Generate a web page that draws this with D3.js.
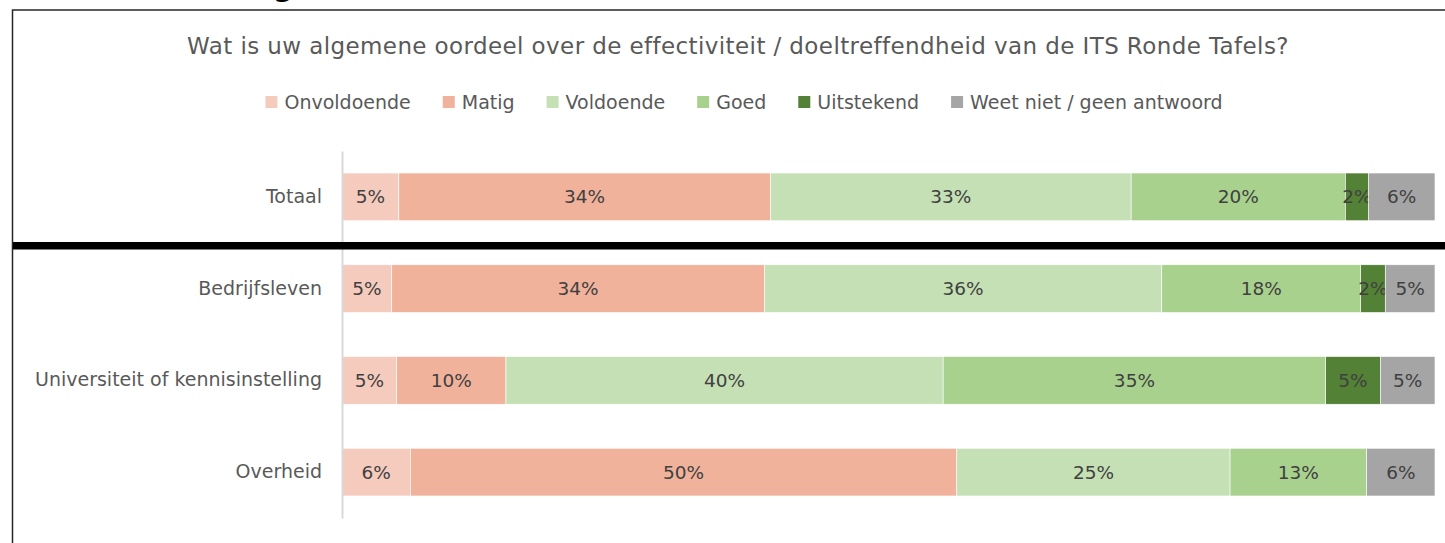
<!DOCTYPE html>
<html>
<head>
<meta charset="utf-8">
<script src="https://cdn.jsdelivr.net/npm/d3@7"></script>
<style>
body { margin: 0; background: #fff; }
text { font-family: "DejaVu Sans", sans-serif; }
</style>
</head>
<body>
<div id="chart-area"></div>
<script>
// Data (percent per group)
const categories = ["Totaal", "Bedrijfsleven", "Universiteit of kennisinstelling", "Overheid"]
const answers = ["Onvoldoende", "Matig", "Voldoende", "Goed", "Uitstekend", "Weet niet / geen antwoord"]
const onvoldoende = [5.2, 4.55, 5, 6.25]
const matig = [34.0, 34.1, 10, 50]
const voldoende = [33.0, 36.35, 40, 25]
const goed = [19.6, 18.2, 35, 12.5]
const uitstekend = [2.1, 2.25, 5, 0]
const weetNiet = [6.1, 4.55, 5, 6.25]
const colours = ["#f5cbbd", "#f1b29b", "#c5e0b4", "#a9d18e", "#538135", "#a5a5a5"]

const W = 1445, H = 543
const MARGIN = { LEFT: 342, RIGHT: 10, TOP: 151, BOTTOM: 25 }

const svg = d3.select("#chart-area").append("svg")
    .attr("width", W)
    .attr("height", H)

// Frame around the chart (cut off at right/bottom)
svg.append("rect")
    .attr("x", 12.5).attr("y", 10)
    .attr("width", W + 20).attr("height", H + 20)
    .attr("fill", "none")
    .attr("stroke", "#262626")
    .attr("stroke-width", 1.5)

// bit of text from above the chart
svg.append("text")
    .attr("x", 272).attr("y", -5)
    .attr("font-size", "36px")
    .attr("font-family", "Liberation Sans")
    .attr("fill", "#000")
    .text("g")

// Title
svg.append("text")
    .attr("x", 738).attr("y", 54)
    .attr("text-anchor", "middle")
    .attr("font-size", "23px")
    .attr("letter-spacing", "0.4px")
    .attr("fill", "#595959")
    .text("Wat is uw algemene oordeel over de effectiviteit / doeltreffendheid van de ITS Ronde Tafels?")

const series = [onvoldoende, matig, voldoende, goed, uitstekend, weetNiet]
const rows = categories.map((c, i) => {
    const r = { cat: c }
    answers.forEach((a, j) => { r[a] = series[j][i] })
    return r
})
const stacked = d3.stack().keys(answers)(rows)

// Scales
const x = d3.scaleLinear()
    .domain([0, 100])
    .range([MARGIN.LEFT, W - MARGIN.RIGHT])

const y = d3.scaleBand()
    .domain(categories)
    .range([MARGIN.TOP, H - MARGIN.BOTTOM])
    .paddingInner(0.48)
    .paddingOuter(0.24)

const colour = d3.scaleOrdinal().domain(answers).range(colours)

// Legend
const legend = svg.append("g").attr("transform", "translate(0, 102)")
const items = legend.selectAll("g.item")
    .data(answers)
    .enter().append("g").attr("class", "item")
items.append("rect")
    .attr("y", -6).attr("width", 12).attr("height", 12)
    .attr("fill", d => colour(d))
items.append("text")
    .attr("x", 19).attr("y", 6.5)
    .attr("font-size", "19px")
    .attr("fill", "#595959")
    .text(d => d)
let lx = 0
const pos = []
items.each(function() {
    pos.push(lx)
    lx += 19 + d3.select(this).select("text").node().getComputedTextLength() + 32
})
const legendWidth = lx - 32
items.attr("transform", (d, i) => `translate(${744 - legendWidth / 2 + pos[i]}, 0)`)

// Bars
const layers = svg.selectAll("g.layer")
    .data(stacked)
    .enter().append("g").attr("class", "layer")
    .attr("fill", d => colour(d.key))

layers.selectAll("rect")
    .data(d => d)
    .enter().append("rect")
    .attr("x", d => x(d[0]))
    .attr("y", d => y(d.data.cat))
    .attr("width", d => x(d[1]) - x(d[0]))
    .attr("height", y.bandwidth())
    .attr("stroke", "#fff")
    .attr("stroke-width", 0.6)

layers.selectAll("text")
    .data(d => d.filter(p => p[1] - p[0] > 0))
    .enter().append("text")
    .attr("x", d => (x(d[0]) + x(d[1])) / 2)
    .attr("y", d => y(d.data.cat) + y.bandwidth() / 2)
    .attr("dy", "0.35em")
    .attr("text-anchor", "middle")
    .attr("font-size", "18.5px")
    .attr("fill", "#404040")
    .text(d => Math.round(d[1] - d[0]) + "%")

// Category axis
const yAxis = d3.axisLeft(y).tickSize(0).tickPadding(20)
const ga = svg.append("g")
    .attr("transform", `translate(${MARGIN.LEFT}, 0)`)
    .call(yAxis)
ga.select(".domain").attr("stroke", "#d9d9d9").attr("stroke-width", 2)
ga.selectAll(".tick text")
    .attr("font-size", "19px")
    .attr("font-family", "DejaVu Sans")
    .attr("fill", "#595959")

// Thick separator between Totaal and the groups
const sepY = (y("Totaal") + y.bandwidth() + y("Bedrijfsleven")) / 2 + 3
svg.append("line")
    .attr("x1", 13).attr("x2", W)
    .attr("y1", sepY).attr("y2", sepY)
    .attr("stroke", "#000")
    .attr("stroke-width", 7.5)
</script>
</body>
</html>
